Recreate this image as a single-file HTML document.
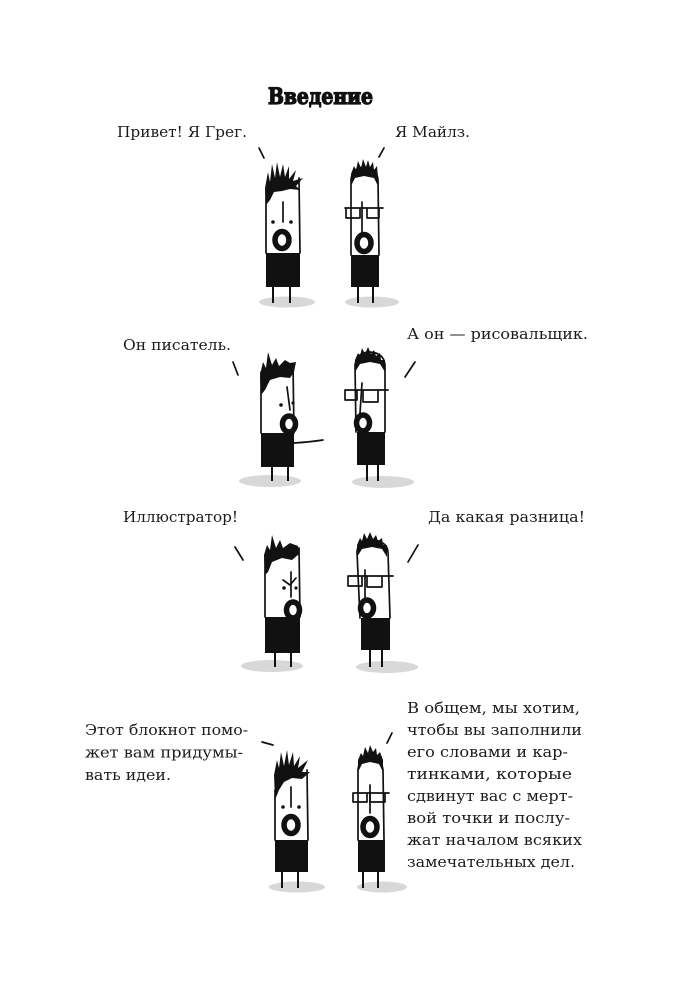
<!DOCTYPE html>
<html><head><meta charset="utf-8"><style>
html,body{margin:0;padding:0;background:#fff;}
svg{display:block;}
.t{font-family:"DejaVu Serif","Liberation Serif",serif;font-size:15px;fill:#1c1c1c;}
.ln{stroke:#111;stroke-width:1.7;fill:none;stroke-linecap:round;stroke-linejoin:round;}
.lg{stroke:#111;stroke-width:2;fill:none;}
.mo{stroke:#111;stroke-width:5.5;fill:none;}
.sh{fill:#d8d8d8;}
.bk{fill:#111;}
</style></head><body>
<svg width="679" height="1000" viewBox="0 0 679 1000" xmlns="http://www.w3.org/2000/svg">
<rect width="679" height="1000" fill="#fff"/>

<!-- Title -->
<text x="268" y="104" font-family="DejaVu Serif, Liberation Serif, serif" font-weight="bold" font-size="22" fill="#111" stroke="#111" stroke-width="1.3" textLength="105" lengthAdjust="spacingAndGlyphs">Введение</text>

<!-- Texts -->
<text class="t" x="117" y="137" textLength="130" lengthAdjust="spacingAndGlyphs">Привет! Я Грег.</text>
<text class="t" x="395" y="137" textLength="75" lengthAdjust="spacingAndGlyphs">Я Майлз.</text>
<text class="t" x="123" y="350" textLength="108" lengthAdjust="spacingAndGlyphs">Он писатель.</text>
<text class="t" x="407" y="339" textLength="181" lengthAdjust="spacingAndGlyphs">А он — рисовальщик.</text>
<text class="t" x="123" y="522" textLength="115" lengthAdjust="spacingAndGlyphs">Иллюстратор!</text>
<text class="t" x="428" y="522" textLength="157" lengthAdjust="spacingAndGlyphs">Да какая разница!</text>

<text class="t" x="85" y="735" textLength="163" lengthAdjust="spacingAndGlyphs">Этот блокнот помо-</text>
<text class="t" x="85" y="757.5" textLength="158" lengthAdjust="spacingAndGlyphs">жет вам придумы-</text>
<text class="t" x="85" y="780" textLength="86" lengthAdjust="spacingAndGlyphs">вать идеи.</text>

<text class="t" x="407" y="713" textLength="173" lengthAdjust="spacingAndGlyphs">В общем, мы хотим,</text>
<text class="t" x="407" y="735" textLength="175" lengthAdjust="spacingAndGlyphs">чтобы вы заполнили</text>
<text class="t" x="407" y="757" textLength="161" lengthAdjust="spacingAndGlyphs">его словами и кар-</text>
<text class="t" x="407" y="779" textLength="165" lengthAdjust="spacingAndGlyphs">тинками, которые</text>
<text class="t" x="407" y="801" textLength="166" lengthAdjust="spacingAndGlyphs">сдвинут вас с мерт-</text>
<text class="t" x="407" y="823" textLength="163" lengthAdjust="spacingAndGlyphs">вой точки и послу-</text>
<text class="t" x="407" y="845" textLength="175" lengthAdjust="spacingAndGlyphs">жат началом всяких</text>
<text class="t" x="407" y="867" textLength="168" lengthAdjust="spacingAndGlyphs">замечательных дел.</text>

<!-- ===== Panel 1 ===== -->
<!-- Greg -->
<ellipse class="sh" cx="287" cy="302" rx="28" ry="5.5"/>
<line class="ln" x1="259" y1="148" x2="264" y2="158"/>
<path class="ln" d="M266,190 L266,253 M299,178 L300,253"/>
<path class="bk" d="M266,205 L265,188 L268,172 L270,182 L272,164 L275,178 L277,162 L280,177 L283,164 L285,177 L289,166 L289,179 L296,170 L293,181 L303,178 L296,186 L300,190 L290,189 L282,191 L274,192 L270,200 Z"/>
<line class="ln" x1="283" y1="202" x2="283" y2="222"/>
<circle class="bk" cx="273" cy="222" r="1.8"/><circle class="bk" cx="291" cy="222" r="1.8"/>
<ellipse class="mo" cx="282" cy="240" rx="7" ry="8.5"/>
<rect class="bk" x="266" y="253" width="34" height="34"/>
<line class="lg" x1="273" y1="287" x2="273" y2="303"/><line class="lg" x1="290" y1="287" x2="290" y2="303"/>

<!-- Miles -->
<ellipse class="sh" cx="372" cy="302" rx="27" ry="5.5"/>
<line class="ln" x1="384" y1="148" x2="379" y2="157"/>
<path class="ln" d="M351,255 L351,180 Q352,168 364,167 Q377,168 378,180 L379,255"/>
<path class="bk" d="M351,186 L351,174 L354,166 L356,170 L358,161 L361,168 L363,159 L366,167 L368,160 L370,167 L373,162 L374,170 L377,166 L378,178 L378,186 L374,178 L364,176 L355,178 Z"/>
<path class="ln" d="M345,208 L383,208 M346,208 L346,218 L360,218 L360,208 M367,208 L367,218 L379,218 L379,208"/>
<line class="ln" x1="362" y1="202" x2="362" y2="232"/>
<ellipse class="mo" cx="364" cy="243" rx="7" ry="8.5"/>
<rect class="bk" x="351" y="255" width="28" height="32"/>
<line class="lg" x1="358" y1="287" x2="358" y2="303"/><line class="lg" x1="373" y1="287" x2="373" y2="303"/>

<!-- ===== Panel 2 ===== -->
<!-- Greg -->
<ellipse class="sh" cx="270" cy="481" rx="31" ry="6"/>
<line class="ln" x1="233" y1="362" x2="238" y2="375"/>
<path class="ln" d="M261,372 L261,433 M293,365 L294,433"/>
<path class="bk" d="M261,395 L260,375 L263,362 L266,368 L268,352 L272,365 L276,358 L279,366 L285,360 L290,363 L296,362 L294,372 L290,378 L280,377 L270,380 L265,390 Z"/>
<line class="ln" x1="287" y1="387" x2="290" y2="410"/>
<circle class="bk" cx="281" cy="405" r="1.8"/><circle class="bk" cx="293" cy="403" r="1.6"/>
<ellipse class="mo" cx="289" cy="424" rx="6.5" ry="8"/>
<rect class="bk" x="261" y="433" width="33" height="34"/>
<path class="ln" d="M294,443 Q310,442 323,440"/>
<line class="lg" x1="272" y1="467" x2="272" y2="481"/><line class="lg" x1="288" y1="467" x2="288" y2="481"/>

<!-- Miles -->
<ellipse class="sh" cx="383" cy="482" rx="31" ry="6"/>
<line class="ln" x1="415" y1="362" x2="405" y2="377"/>
<path class="ln" d="M356,432 L355,365 Q357,352 370,352 Q384,353 385,365 L385,432"/>
<path class="bk" d="M355,372 L355,360 L358,353 L360,356 L362,348 L365,354 L368,347 L371,354 L374,350 L376,356 L380,353 L381,360 L385,360 L385,372 L380,364 L370,362 L360,364 Z"/>
<path class="ln" d="M345,390 L388,390 M345,390 L345,400 L357,400 L357,390 M363,390 L363,402 L378,402 L378,390"/>
<line class="ln" x1="362" y1="383" x2="360" y2="413"/>
<ellipse class="mo" cx="363" cy="423" rx="6.5" ry="8"/>
<rect class="bk" x="357" y="432" width="28" height="33"/>
<line class="lg" x1="367" y1="465" x2="367" y2="481"/><line class="lg" x1="378" y1="465" x2="378" y2="481"/>

<!-- ===== Panel 3 ===== -->
<!-- Greg -->
<ellipse class="sh" cx="272" cy="666" rx="31" ry="6"/>
<line class="ln" x1="235" y1="547" x2="243" y2="560"/>
<path class="ln" d="M265,555 L265,617 M299,548 L300,617"/>
<path class="bk" d="M265,575 L264,555 L267,545 L270,550 L272,535 L276,548 L280,540 L283,548 L290,543 L298,546 L299,554 L292,560 L282,558 L272,562 L268,572 Z"/>
<polyline class="ln" points="283,580 290,585 296,578"/>
<line class="ln" x1="291" y1="572" x2="291" y2="597"/>
<circle class="bk" cx="284" cy="588" r="1.8"/><circle class="bk" cx="296" cy="588" r="1.6"/>
<ellipse class="mo" cx="293" cy="610" rx="6.5" ry="8"/>
<rect class="bk" x="265" y="617" width="35" height="36"/>
<line class="lg" x1="275" y1="653" x2="275" y2="667"/><line class="lg" x1="291" y1="653" x2="291" y2="667"/>

<!-- Miles -->
<ellipse class="sh" cx="387" cy="667" rx="31" ry="6"/>
<line class="ln" x1="418" y1="545" x2="408" y2="562"/>
<path class="ln" d="M360,618 L357,552 Q358,540 372,540 Q387,541 388,552 L390,618"/>
<path class="bk" d="M357,557 L357,545 L360,538 L362,541 L364,533 L367,539 L370,532 L373,539 L376,535 L378,541 L382,538 L383,545 L387,545 L387,557 L382,549 L372,547 L362,549 Z"/>
<path class="ln" d="M348,576 L393,576 M348,576 L348,586 L362,586 L362,576 M367,576 L367,587 L382,587 L382,576"/>
<line class="ln" x1="365" y1="570" x2="365" y2="600"/>
<ellipse class="mo" cx="367" cy="608" rx="6.5" ry="8"/>
<rect class="bk" x="361" y="618" width="29" height="32"/>
<line class="lg" x1="370" y1="650" x2="370" y2="667"/><line class="lg" x1="382" y1="650" x2="382" y2="667"/>

<!-- ===== Panel 4 ===== -->
<!-- Greg -->
<ellipse class="sh" cx="297" cy="887" rx="28" ry="5.5"/>
<line class="ln" x1="262" y1="742" x2="273" y2="745"/>
<path class="ln" d="M275,790 L275,840 M307,770 L308,840"/>
<path class="bk" d="M275,800 L274,775 L277,760 L279,768 L281,752 L284,766 L287,750 L289,765 L293,752 L294,766 L300,756 L298,768 L308,760 L302,772 L310,772 L302,779 L292,778 L284,782 L279,790 Z"/>
<line class="ln" x1="291" y1="787" x2="291" y2="807"/>
<circle class="bk" cx="283" cy="807" r="1.8"/><circle class="bk" cx="299" cy="807" r="1.8"/>
<ellipse class="mo" cx="291" cy="825" rx="7" ry="8.5"/>
<rect class="bk" x="275" y="840" width="33" height="32"/>
<line class="lg" x1="282" y1="872" x2="282" y2="888"/><line class="lg" x1="298" y1="872" x2="298" y2="888"/>

<!-- Miles -->
<ellipse class="sh" cx="382" cy="887" rx="25" ry="5.5"/>
<line class="ln" x1="392" y1="733" x2="387" y2="743"/>
<path class="ln" d="M358,840 L358,770 Q359,758 370,758 Q382,759 383,770 L384,840"/>
<path class="bk" d="M358,772 L358,760 L361,753 L363,756 L365,747 L368,753 L370,745 L373,752 L376,748 L377,755 L380,752 L383,760 L383,772 L379,764 L370,762 L362,764 Z"/>
<path class="ln" d="M353,793 L389,793 M353,793 L353,802 L367,802 L367,793 M370,793 L370,802 L385,802 L385,793"/>
<line class="ln" x1="370" y1="785" x2="370" y2="813"/>
<ellipse class="mo" cx="370" cy="827" rx="7" ry="8.5"/>
<rect class="bk" x="358" y="840" width="27" height="32"/>
<line class="lg" x1="363" y1="872" x2="363" y2="888"/><line class="lg" x1="378" y1="872" x2="378" y2="888"/>
</svg>
</body></html>
